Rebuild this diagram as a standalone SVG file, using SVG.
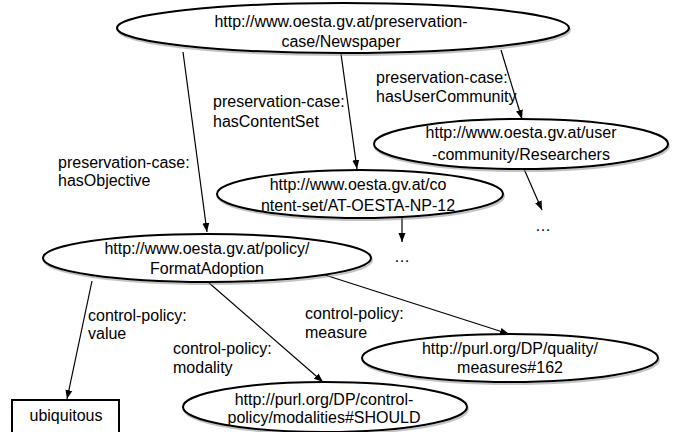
<svg xmlns="http://www.w3.org/2000/svg" width="678" height="432" viewBox="0 0 678 432">
<style>
.n{fill:#fff;stroke:#000;stroke-width:2}
.sh{fill:none;stroke:#888;stroke-width:2;opacity:0.5}
.t{font-family:"Liberation Sans",Arial,sans-serif;font-size:16px;fill:#000}
.c{text-anchor:middle}
.e{stroke:#000;stroke-width:1.2;fill:none;marker-end:url(#arr)}
</style>
<defs>
<marker id="arr" markerUnits="userSpaceOnUse" markerWidth="10" markerHeight="10" viewBox="0 0 10 10" refX="9" refY="5" orient="auto">
<path d="M0,1.5 L9,5 L0,8.5 z" fill="#000"/>
</marker>
</defs>
<rect width="678" height="432" fill="#fff"/>
<g id="connectors">
<line class="e" x1="183" y1="52" x2="207" y2="232"/>
<line class="e" x1="341" y1="54" x2="357" y2="169"/>
<line class="e" x1="501" y1="50" x2="522" y2="119"/>
<line class="e" x1="524" y1="169" x2="542" y2="210"/>
<line class="e" x1="402" y1="218" x2="402" y2="242"/>
<line class="e" x1="92" y1="281" x2="67" y2="399"/>
<line class="e" x1="208" y1="282" x2="323" y2="382"/>
<line class="e" x1="325" y1="275" x2="509" y2="334"/>
<text class="t" x="58" y="168">preservation-case:</text>
<text class="t" x="58" y="186">hasObjective</text>
<text class="t" x="213" y="107">preservation-case:</text>
<text class="t" x="213" y="127">hasContentSet</text>
<text class="t" x="376" y="83">preservation-case:</text>
<text class="t" x="376" y="102">hasUserCommunity</text>
<text class="t" x="88" y="321">control-policy:</text>
<text class="t" x="88" y="339">value</text>
<text class="t" x="173" y="354">control-policy:</text>
<text class="t" x="173" y="373">modality</text>
<text class="t" x="305" y="319">control-policy:</text>
<text class="t" x="305" y="338">measure</text>
<text class="t c" x="402" y="262">…</text>
<text class="t c" x="543" y="231">…</text>
</g>
<g id="newspaper">
<ellipse class="sh" cx="344" cy="30" rx="226" ry="25"/>
<ellipse class="n" cx="343" cy="28" rx="226" ry="25"/>
<text class="t c" x="341" y="27">http://www.oesta.gv.at/preservation-</text>
<text class="t c" x="341" y="47">case/Newspaper</text>
</g>
<g id="researchers">
<ellipse class="sh" cx="522" cy="146" rx="147" ry="25"/>
<ellipse class="n" cx="521" cy="144" rx="147" ry="25"/>
<text class="t c" x="521" y="138">http://www.oesta.gv.at/user</text>
<text class="t c" x="521" y="160">-community/Researchers</text>
</g>
<g id="contentset">
<ellipse class="sh" cx="361" cy="196" rx="143" ry="24"/>
<ellipse class="n" cx="360" cy="194" rx="143" ry="24"/>
<text class="t c" x="358" y="190">http://www.oesta.gv.at/co</text>
<text class="t c" x="358" y="211">ntent-set/AT-OESTA-NP-12</text>
</g>
<g id="policy">
<ellipse class="sh" cx="208" cy="260" rx="164" ry="24"/>
<ellipse class="n" cx="207" cy="258" rx="164" ry="24"/>
<text class="t c" x="207" y="254">http://www.oesta.gv.at/policy/</text>
<text class="t c" x="207" y="274">FormatAdoption</text>
</g>
<g id="measure">
<ellipse class="sh" cx="511" cy="360" rx="148" ry="24"/>
<ellipse class="n" cx="510" cy="358" rx="148" ry="24"/>
<text class="t c" x="510" y="354">http://purl.org/DP/quality/</text>
<text class="t c" x="510" y="373">measures#162</text>
</g>
<g id="modality">
<ellipse class="sh" cx="326" cy="409" rx="142" ry="25"/>
<ellipse class="n" cx="325" cy="407" rx="142" ry="25"/>
<text class="t c" x="324" y="405">http://purl.org/DP/control-</text>
<text class="t c" x="324" y="423">policy/modalities#SHOULD</text>
</g>
<g id="ubiquitous">
<rect class="n" x="12" y="400" width="107" height="36"/>
<text class="t c" x="66" y="421">ubiquitous</text>
</g>
</svg>
